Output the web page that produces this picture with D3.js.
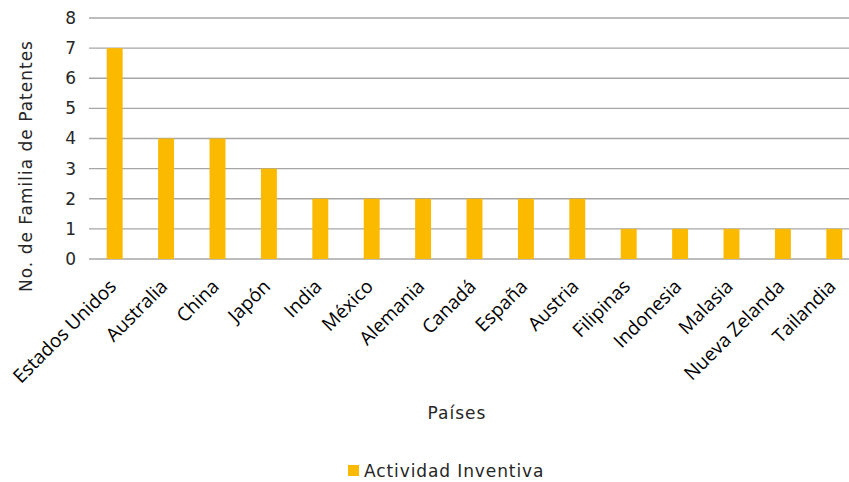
<!DOCTYPE html>
<html>
<head>
<meta charset="utf-8">
<script src="https://cdn.jsdelivr.net/npm/d3@7"></script>
<style>
  body { margin: 0; background: #fff; }
  svg { display: block; }
</style>
</head>
<body>
<div id="chart"></div>
<script>
// Data
var paises = ["Estados Unidos", "Australia", "China", "Japón", "India", "México", "Alemania",
  "Canadá", "España", "Austria", "Filipinas", "Indonesia", "Malasia", "Nueva Zelanda", "Tailandia"];
var familias = [7, 4, 4, 3, 2, 2, 2, 2, 2, 2, 1, 1, 1, 1, 1];
var yTicks = [0, 1, 2, 3, 4, 5, 6, 7, 8];
var serieNombre = "Actividad Inventiva";

var svgWidth = 849;
var svgHeight = 482;

// plot area (runs slightly past the right edge, like the original)
var plot = { left: 89, right: 860, top: 18, bottom: 259 };

var svg = d3.select("#chart")
  .append("svg")
  .attr("width", svgWidth)
  .attr("height", svgHeight);

var data = paises.map(function(p, i) { return { pais: p, valor: familias[i] }; });

var xScale = d3.scaleBand()
  .domain(paises)
  .range([plot.left, plot.right])
  .paddingInner(0.69)
  .paddingOuter(0.345);

var yScale = d3.scaleLinear()
  .domain([0, 8])
  .range([plot.bottom, plot.top]);

// gridlines
svg.append("g")
  .selectAll("line")
  .data(yTicks)
  .enter()
  .append("line")
  .attr("x1", plot.left)
  .attr("x2", plot.right)
  .attr("y1", d => yScale(d))
  .attr("y2", d => yScale(d))
  .attr("stroke", "#a6a6a6")
  .attr("stroke-width", 1.3);

// y tick labels
var leftAxis = d3.axisLeft(yScale).tickValues(yTicks).tickSize(0).tickPadding(13);
var yAxisG = svg.append("g")
  .attr("transform", `translate(${plot.left}, 0)`)
  .call(leftAxis);
yAxisG.select(".domain").remove();
yAxisG.selectAll("text")
  .style("font-family", "'DejaVu Sans', sans-serif")
  .style("font-size", "17px")
  .style("fill", "#262626");

// bars
svg.append("g")
  .selectAll("rect")
  .data(data)
  .enter()
  .append("rect")
  .attr("x", d => xScale(d.pais))
  .attr("y", d => yScale(d.valor))
  .attr("width", xScale.bandwidth())
  .attr("height", d => yScale(0) - yScale(d.valor))
  .attr("fill", "#fbb900");

// category labels, rotated
svg.append("g")
  .selectAll("text")
  .data(paises)
  .enter()
  .append("text")
  .attr("transform", d => `translate(${xScale(d) + xScale.bandwidth() / 2 - 2}, 283) rotate(-45)`)
  .attr("text-anchor", "end")
  .attr("dy", "0.35em")
  .style("font-family", "'Open Sans', sans-serif")
  .style("font-size", "19px")
  .style("fill", "#000")
  .text(d => d);

// axis titles
svg.append("text")
  .attr("x", 457)
  .attr("y", 419)
  .attr("text-anchor", "middle")
  .style("font-family", "'DejaVu Sans', sans-serif")
  .style("font-size", "17px")
  .style("letter-spacing", "1px")
  .style("fill", "#262626")
  .text("Países");

svg.append("text")
  .attr("transform", "rotate(-90)")
  .attr("x", -166)
  .attr("y", 32)
  .attr("text-anchor", "middle")
  .style("font-family", "'DejaVu Sans', sans-serif")
  .style("font-size", "17px")
  .style("letter-spacing", "1px")
  .style("fill", "#262626")
  .text("No. de Familia de Patentes");

// legend
var legend = svg.append("g").attr("transform", "translate(348, 465)");
legend.append("rect")
  .attr("width", 11)
  .attr("height", 11)
  .attr("fill", "#fbb900");
legend.append("text")
  .attr("x", 16)
  .attr("y", 12)
  .style("font-family", "'DejaVu Sans', sans-serif")
  .style("font-size", "17px")
  .style("letter-spacing", "0.9px")
  .style("fill", "#262626")
  .text(serieNombre);
</script>
</body>
</html>
